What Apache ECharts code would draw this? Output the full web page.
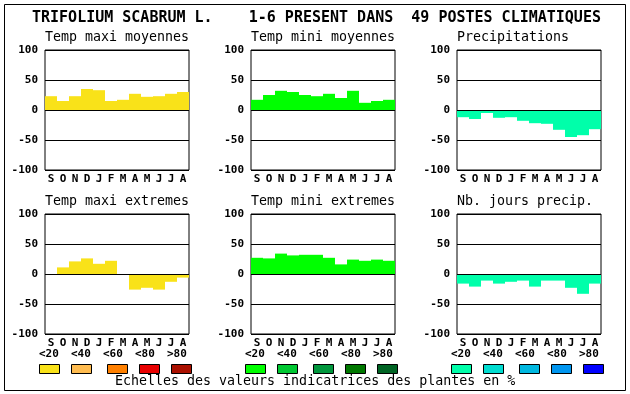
<!DOCTYPE html>
<html>
<head>
<meta charset="utf-8">
<script src="https://cdn.jsdelivr.net/npm/echarts@6/dist/echarts.min.js"></script>
<style>html,body{margin:0;padding:0;background:#fff;}#c{width:630px;height:394px;}</style>
</head>
<body>
<div id="c"></div>
<script>
const months = ['S','O','N','D','J','F','M','A','M','J','J','A'];
const tempMaxiMoyennes = [23, 15, 23, 35, 33, 15, 17, 27, 22, 23, 27, 30];
const tempMiniMoyennes = [17, 25, 32, 30, 25, 23, 27, 20, 32, 12, 15, 17];
const precipitations = [-12, -15, -5, -13, -12, -18, -22, -23, -33, -45, -42, -32];
const tempMaxiExtremes = [0, 11, 21, 26, 17, 22, 0, -26, -23, -26, -13, -6];
const tempMiniExtremes = [27, 26, 34, 31, 32, 32, 27, 16, 24, 22, 24, 22];
const nbJoursPrecip = [-16, -21, -11, -16, -13, -11, -21, -11, -11, -23, -33, -16];
const panelTitles = ['Temp maxi moyennes','Temp mini moyennes','Precipitations','Temp maxi extremes','Temp mini extremes','Nb. jours precip.'];
const mainTitle = 'TRIFOLIUM SCABRUM L.    1-6 PRESENT DANS  49 POSTES CLIMATIQUES';
const footerText = 'Echelles des valeurs indicatrices des plantes en %';
const legendLabels = ['<20','<40','<60','<80','>80'];
const yellowScale = ['#F9E219','#FFBC50','#FF8000','#E80000','#AA1000'];
const greenScale = ['#00FF00','#00C832','#00963C','#007800','#006424'];
const blueScale = ['#00FFAA','#00DCD0','#00B8E0','#0096F0','#0000FF'];

const seriesData = [tempMaxiMoyennes, tempMiniMoyennes, precipitations, tempMaxiExtremes, tempMiniExtremes, nbJoursPrecip];
const seriesColors = [yellowScale[0], greenScale[0], blueScale[0], yellowScale[0], greenScale[0], blueScale[0]];
const scales = [yellowScale, greenScale, blueScale];

const MONO = '"DejaVu Sans Mono", "Liberation Mono", monospace';
const panelLefts = [45, 251, 457];
const panelTops = [50, 214];
const PW = 144, PH = 120;

const grids = [], xAxes = [], yAxes = [], series = [], graphics = [];
for (let i = 0; i < 6; i++) {
  const col = i % 3, row = Math.floor(i / 3);
  grids.push({left: panelLefts[col], top: panelTops[row], width: PW, height: PH,
    show: true, borderColor: '#000', borderWidth: 1, backgroundColor: '#fff'});
  xAxes.push({type: 'category', gridIndex: i, data: months, boundaryGap: true,
    axisLine: {show: false}, axisTick: {show: false}, splitLine: {show: false},
    axisLabel: {interval: 0, margin: 4, color: '#000', fontFamily: MONO, fontWeight: 'bold', fontSize: 11}});
  yAxes.push({type: 'value', gridIndex: i, min: -100, max: 100, interval: 50, z: 5,
    axisLine: {show: false}, axisTick: {show: false},
    splitLine: {show: true, lineStyle: {color: '#000', width: 1}},
    axisLabel: {margin: 7, color: '#000', fontFamily: MONO, fontWeight: 'bold', fontSize: 11}});
  series.push({type: 'bar', xAxisIndex: i, yAxisIndex: i, data: seriesData[i],
    barCategoryGap: '0%', silent: true, itemStyle: {color: seriesColors[i]}});
  graphics.push({type: 'text', silent: true, style: {text: panelTitles[i], x: panelLefts[col], y: panelTops[row] - 12,
    font: '13.3px ' + MONO, fill: '#000', textAlign: 'left', textVerticalAlign: 'middle'}});
}

graphics.push({type: 'rect', silent: true, shape: {x: 4.5, y: 4.5, width: 621, height: 386},
  style: {fill: null, stroke: '#000', lineWidth: 1}, z: 10});
graphics.push({type: 'text', silent: true, style: {text: mainTitle, x: 32, y: 18,
  font: 'bold 15px ' + MONO, fill: '#000', textAlign: 'left', textVerticalAlign: 'middle'}});
graphics.push({type: 'text', silent: true, style: {text: footerText, x: 115, y: 382,
  font: '13.3px ' + MONO, fill: '#000', textAlign: 'left', textVerticalAlign: 'middle'}});

const boxOffsets = [0, 32, 68, 100, 132];
const labelOffsets = [0, 32, 64, 96, 128];
for (let g = 0; g < 3; g++) {
  const gx = panelLefts[g] - 6;
  for (let k = 0; k < 5; k++) {
    graphics.push({type: 'text', silent: true, style: {text: legendLabels[k], x: gx + labelOffsets[k], y: 354,
      font: 'bold 11px ' + MONO, fill: '#000', textAlign: 'left', textVerticalAlign: 'middle'}});
    graphics.push({type: 'rect', silent: true, shape: {x: gx + boxOffsets[k] + 0.5, y: 364.5, width: 20, height: 9},
      style: {fill: scales[g][k], stroke: '#000', lineWidth: 1}});
  }
}

const chart = echarts.init(document.getElementById('c'), null, {renderer: 'canvas'});
chart.setOption({
  animation: false,
  backgroundColor: '#fff',
  grid: grids, xAxis: xAxes, yAxis: yAxes, series: series, graphic: graphics
});
</script>
</body>
</html>
